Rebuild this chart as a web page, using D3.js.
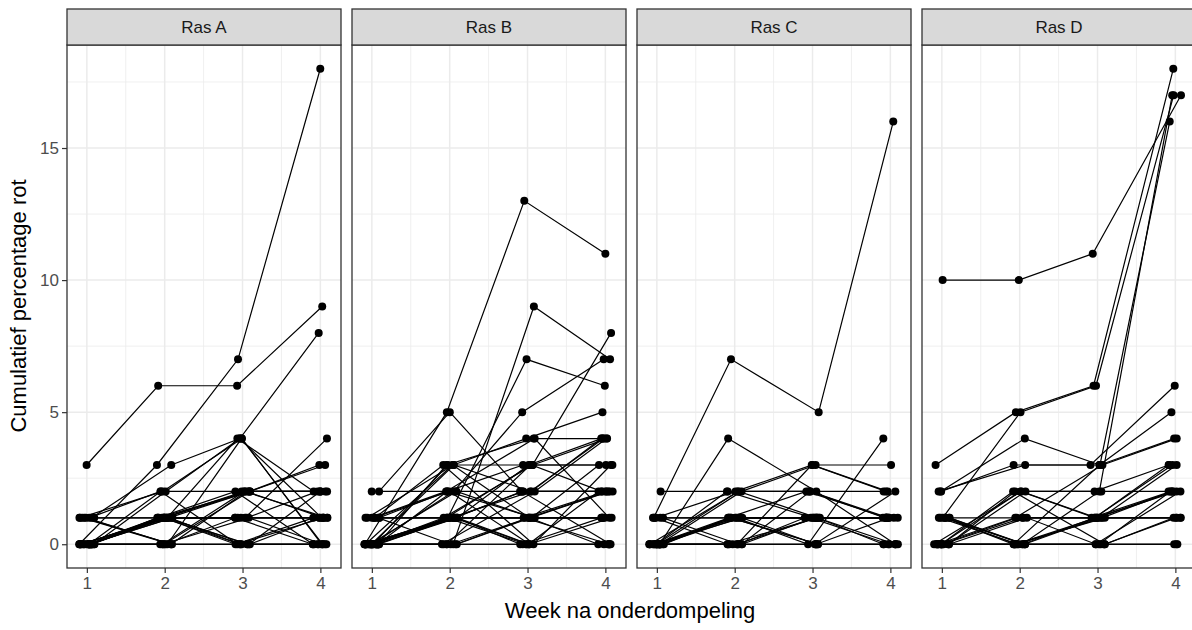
<!DOCTYPE html>
<html>
<head>
<meta charset="utf-8">
<script src="https://cdn.jsdelivr.net/npm/d3@7"></script>
<style>
	body { margin: 0; background: #fff; }
	text { font-family: 'Liberation Sans', Arial, sans-serif; }
</style>
</head>
<body>
<script>

// Data: per ras een lijst van knollen, waarde per week (cumulatief % rot)
const panels = [ 'Ras A', 'Ras B', 'Ras C', 'Ras D' ],
	weeks = [ 1, 2, 3, 4 ],
	yTicks = [ 0, 5, 10, 15 ],
	yMinor = [ 2.5, 7.5, 12.5, 17.5 ],
	xMinor = [ 1.5, 2.5, 3.5 ],

	rasA = [
		[ 3, 6, 6, 9 ], [ 0, 3, 7, 18 ], [ 1, 3, 4, 8 ], [ 0, 1, 1, 4 ],
		[ 0, 1, 2, 3 ], [ 1, 2, 4, 0 ], [ 0, 2, 4, 1 ], [ 0, 1, 4, 2 ],
		[ 0, 0, 4, 0 ], [ 1, 2, 2, 2 ], [ 1, 1, 1, 1 ], [ 0, 0, 0, 0 ],
		[ 0, 1, 0, 1 ], [ 0, 1, 0, 0 ], [ 1, 0, 0, 1 ], [ 0, 1, 1, 1 ],
		[ 0, 1, 1, 2 ], [ 0, 1, 2, 2 ], [ 0, 0, 2, 2 ], [ 1, 0, 2, 1 ],
		[ 0, 1, 0, 0 ], [ 0, 1, 2, 0 ], [ 1, 1, 0, 0 ], [ 0, 0, 1, 1 ],
		[ 0, 1, 2, 1 ], [ 0, 0, 2, 3 ], [ 0, 1, 1, 0 ], [ 0, 2, 0, 1 ],
		[ 0, 1, 0, 2 ], [ 0, 0, 1, 0 ], [ 1, 0, 0, 0 ], [ 0, 1, 2, 2 ]
	],

	rasB = [
		[ 0, 5, 13, 11 ], [ 2, 5, 2, 0 ], [ 0, 0, 9, 7 ], [ 0, 1, 7, 6 ],
		[ 0, 1, 3, 8 ], [ 0, 2, 5, 7 ], [ 1, 3, 4, 5 ], [ 0, 3, 4, 4 ],
		[ 1, 2, 4, 1 ], [ 2, 2, 2, 2 ], [ 1, 1, 1, 1 ], [ 0, 0, 0, 0 ],
		[ 0, 3, 3, 4 ], [ 0, 3, 2, 4 ], [ 1, 3, 0, 3 ], [ 0, 2, 3, 3 ],
		[ 0, 1, 3, 4 ], [ 0, 1, 1, 2 ], [ 0, 1, 2, 2 ], [ 0, 0, 1, 2 ],
		[ 0, 1, 0, 1 ], [ 1, 1, 0, 0 ], [ 0, 1, 1, 3 ], [ 0, 0, 2, 4 ],
		[ 1, 2, 1, 1 ], [ 0, 1, 0, 2 ], [ 0, 2, 1, 1 ], [ 0, 0, 0, 1 ],
		[ 1, 0, 1, 2 ], [ 0, 1, 1, 0 ], [ 1, 1, 2, 2 ], [ 0, 1, 3, 2 ],
		[ 0, 0, 3, 3 ], [ 0, 1, 2, 4 ], [ 0, 3, 1, 0 ], [ 1, 2, 0, 0 ],
		[ 0, 1, 0, 0 ], [ 0, 0, 1, 1 ]
	],

	rasC = [
		[ 1, 7, 5, 16 ], [ 0, 4, 2, 0 ], [ 2, 2, 2, 2 ], [ 0, 2, 3, 3 ],
		[ 1, 2, 3, 2 ], [ 0, 1, 0, 4 ], [ 1, 1, 2, 1 ], [ 0, 2, 2, 1 ],
		[ 1, 1, 1, 1 ], [ 0, 0, 0, 0 ], [ 0, 1, 1, 1 ], [ 0, 1, 1, 0 ],
		[ 0, 0, 1, 1 ], [ 0, 1, 0, 1 ], [ 1, 0, 0, 0 ], [ 0, 2, 1, 0 ],
		[ 0, 0, 0, 2 ], [ 0, 1, 1, 1 ], [ 0, 0, 1, 0 ], [ 0, 1, 0, 0 ],
		[ 1, 0, 1, 1 ], [ 0, 0, 1, 1 ], [ 0, 1, 1, 1 ], [ 0, 0, 2, 1 ],
		[ 0, 2, 1, 1 ], [ 0, 0, 3, 2 ], [ 0, 1, 0, 0 ]
	],

	rasD = [
		[ 10, 10, 11, 17 ], [ 3, 5, 6, 18 ], [ 2, 4, 3, 16 ], [ 0, 0, 2, 17 ],
		[ 1, 5, 6, 17 ], [ 2, 3, 3, 6 ], [ 1, 0, 3, 5 ], [ 0, 1, 3, 4 ],
		[ 2, 3, 3, 4 ], [ 0, 2, 2, 2 ], [ 1, 1, 1, 1 ], [ 0, 0, 0, 0 ],
		[ 1, 0, 1, 2 ], [ 1, 0, 1, 1 ], [ 1, 0, 0, 2 ], [ 1, 0, 1, 3 ],
		[ 0, 2, 1, 2 ], [ 0, 1, 1, 2 ], [ 0, 2, 1, 3 ], [ 0, 0, 1, 2 ],
		[ 0, 0, 0, 1 ], [ 0, 0, 0, 2 ], [ 0, 2, 0, 1 ], [ 0, 1, 1, 3 ],
		[ 0, 0, 1, 1 ], [ 0, 2, 2, 3 ], [ 1, 0, 0, 0 ], [ 0, 1, 0, 0 ]
	],

	allData = [ rasA, rasB, rasC, rasD ]

const width = 1192,
	height = 630,
	panelLeft = 67,
	panelWidth = 274,
	panelStep = 285,
	stripTop = 9,
	panelTop = 45,
	panelBottom = 568,

	x = d3.scaleLinear()
		.domain( [ 0.745, 4.265 ] )
		.range( [ 0, panelWidth ] ),

	y = d3.scaleLinear()
		.domain( [ -0.9, 18.9 ] )
		.range( [ panelBottom, panelTop ] ),

	jitter = d3.randomUniform.source( d3.randomLcg( 0.37 ) )( -0.1, 0.1 ), // Vaste seed, net als set.seed in R

	svg = d3.select( 'body' )
		.append( 'svg' )
		.attr( 'width', width )
		.attr( 'height', height )

svg.append( 'rect' )
	.attr( 'width', width )
	.attr( 'height', height )
	.attr( 'fill', '#fff' )

const line = d3.line()
	.x( d => x( d.week + d.jit ) )
	.y( d => y( d.value ) )

panels.forEach( ( name, p ) => {

	const g = svg.append( 'g' )
		.attr( 'transform', `translate( ${ panelLeft + p * panelStep }, 0 )` )

	// Grid (minor eerst, dan major)
	g.selectAll( '.minor-y' )
		.data( yMinor )
		.enter()
		.append( 'line' )
		.attr( 'x1', 0 ).attr( 'x2', panelWidth )
		.attr( 'y1', d => y( d ) ).attr( 'y2', d => y( d ) )
		.attr( 'stroke', '#ebebeb' ).attr( 'stroke-width', 0.8 )

	g.selectAll( '.minor-x' )
		.data( xMinor )
		.enter()
		.append( 'line' )
		.attr( 'x1', d => x( d ) ).attr( 'x2', d => x( d ) )
		.attr( 'y1', panelTop ).attr( 'y2', panelBottom )
		.attr( 'stroke', '#ebebeb' ).attr( 'stroke-width', 0.8 )

	g.selectAll( '.major-y' )
		.data( yTicks )
		.enter()
		.append( 'line' )
		.attr( 'x1', 0 ).attr( 'x2', panelWidth )
		.attr( 'y1', d => y( d ) ).attr( 'y2', d => y( d ) )
		.attr( 'stroke', '#ebebeb' ).attr( 'stroke-width', 1.5 )

	g.selectAll( '.major-x' )
		.data( weeks )
		.enter()
		.append( 'line' )
		.attr( 'x1', d => x( d ) ).attr( 'x2', d => x( d ) )
		.attr( 'y1', panelTop ).attr( 'y2', panelBottom )
		.attr( 'stroke', '#ebebeb' ).attr( 'stroke-width', 1.5 )

	// Elke knol krijgt zijn eigen jitter per week
	const series = allData[ p ].map( vals => vals.map( ( v, i ) => ( { week: weeks[ i ], value: v, jit: jitter() } ) ) )

	g.selectAll( '.knol' )
		.data( series )
		.enter()
		.append( 'path' )
		.attr( 'd', line )
		.attr( 'fill', 'none' )
		.attr( 'stroke', '#000' )
		.attr( 'stroke-width', 1.2 )

	g.selectAll( '.punt' )
		.data( series.flat() )
		.enter()
		.append( 'circle' )
		.attr( 'cx', d => x( d.week + d.jit ) )
		.attr( 'cy', d => y( d.value ) )
		.attr( 'r', 4 )
		.attr( 'fill', '#000' )

	// Rand van het paneel
	g.append( 'rect' )
		.attr( 'width', panelWidth )
		.attr( 'y', panelTop )
		.attr( 'height', panelBottom - panelTop )
		.attr( 'fill', 'none' )
		.attr( 'stroke', '#333' )
		.attr( 'stroke-width', 1.3 )

	// Strip met de naam
	g.append( 'rect' )
		.attr( 'y', stripTop )
		.attr( 'width', panelWidth )
		.attr( 'height', panelTop - stripTop )
		.attr( 'fill', '#d9d9d9' )
		.attr( 'stroke', '#333' )
		.attr( 'stroke-width', 1.3 )

	g.append( 'text' )
		.attr( 'x', panelWidth / 2 )
		.attr( 'y', ( stripTop + panelTop ) / 2 )
		.attr( 'dy', '0.35em' )
		.attr( 'text-anchor', 'middle' )
		.attr( 'font-size', 17 )
		.attr( 'fill', '#1a1a1a' )
		.text( name )

	// x-as
	const xAxis = g.append( 'g' )
		.attr( 'transform', `translate( 0, ${ panelBottom } )` )
		.call( d3.axisBottom( x )
			.tickValues( weeks )
			.tickFormat( d3.format( 'd' ) )
			.tickSize( 5 )
			.tickPadding( 4 ) )

	xAxis.select( '.domain' ).remove()
	xAxis.selectAll( 'line' ).attr( 'stroke', '#333' ).attr( 'stroke-width', 1.2 )
	xAxis.selectAll( 'text' )
		.attr( 'font-size', 17 )
		.attr( 'fill', '#4d4d4d' )
		.style( 'font-family', "'Liberation Sans', Arial, sans-serif" )

	if ( p === 0 ) {

		const yAxis = g.append( 'g' )
			.call( d3.axisLeft( y )
				.tickValues( yTicks )
				.tickFormat( d3.format( 'd' ) )
				.tickSize( 5 )
				.tickPadding( 3 ) )

		yAxis.select( '.domain' ).remove()
		yAxis.selectAll( 'line' ).attr( 'stroke', '#333' ).attr( 'stroke-width', 1.2 )
		yAxis.selectAll( 'text' )
			.attr( 'font-size', 17 )
			.attr( 'fill', '#4d4d4d' )
			.style( 'font-family', "'Liberation Sans', Arial, sans-serif" )

	}

})

// As-titels
svg.append( 'text' )
	.attr( 'x', 630 )
	.attr( 'y', 618 )
	.attr( 'text-anchor', 'middle' )
	.attr( 'font-size', 22 )
	.attr( 'fill', '#000' )
	.text( 'Week na onderdompeling' )

svg.append( 'text' )
	.attr( 'transform', `translate( 26, 306 ) rotate( -90 )` )
	.attr( 'text-anchor', 'middle' )
	.attr( 'font-size', 22 )
	.attr( 'fill', '#000' )
	.text( 'Cumulatief percentage rot' )

</script>
</body>
</html>
